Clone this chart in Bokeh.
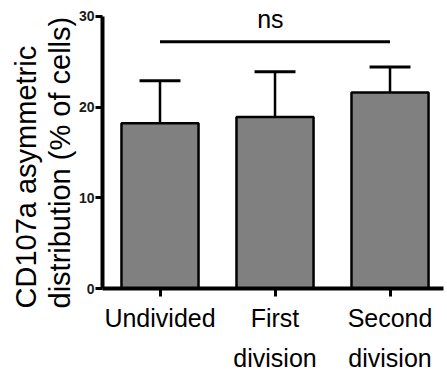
from bokeh.plotting import figure
from bokeh.models import FixedTicker, LinearAxis, Range1d, Title
from bokeh.embed import file_html
from bokeh.resources import INLINE
from bokeh.core.properties import value

# Group labels (first and second row of the category axis)
groups = ["Undivided", "First", "Second"]
groups_line2 = ["", "division", "division"]

# Mean percentage of cells and upper error (SEM) per group
means = [18.2, 18.9, 21.6]
errors = [4.7, 5.0, 2.8]

y_ticks = [0, 10, 20, 30]
y_title = ["CD107a asymmetric", "distribution (% of cells)"]
sig_text = "ns"
sig_level = 27.2

FONT = "Liberation Sans"

xs = list(range(len(groups)))
upper = [m + e for m, e in zip(means, errors)]

p = figure(width=447, height=374,
           x_range=Range1d(-0.5, 2.465), y_range=Range1d(0, 31.74),
           output_backend="svg", toolbar_location=None,
           min_border_left=102, min_border_right=4,
           min_border_top=0, min_border_bottom=82)
p.outline_line_color = None
p.xgrid.grid_line_color = None
p.ygrid.grid_line_color = None
p.background_fill_color = "white"

# error whiskers (upper only)
p.segment(x0=xs, y0=means, x1=xs, y1=upper, line_color="black", line_width=2.5)
cap_half = 0.178
p.segment(x0=[x - cap_half for x in xs], y0=upper,
          x1=[x + cap_half for x in xs], y1=upper,
          line_color="black", line_width=3)

# bars
p.vbar(x=xs, top=means, width=0.67, fill_color="#808080",
       line_color="black", line_width=2.5)

# significance bracket
p.segment(x0=[xs[0]], y0=[sig_level], x1=[xs[-1]], y1=[sig_level],
          line_color="black", line_width=3)
p.text(x=[(xs[0] + xs[-1]) / 2 - 0.04], y=[29.7], text=[sig_text],
       text_align="center", text_baseline="alphabetic",
       text_font=value(FONT), text_font_size="25px", text_color="black")

# y axis
ya = p.yaxis[0]
ya.ticker = FixedTicker(ticks=y_ticks)
ya.bounds = (0, 30)
ya.axis_line_width = 4
ya.axis_line_color = "black"
ya.major_tick_line_width = 3
ya.major_tick_out = 7
ya.major_tick_in = 0
ya.minor_tick_line_color = None
ya.major_label_text_font = FONT
ya.major_label_text_font_style = "bold"
ya.major_label_text_font_size = "14px"
ya.major_label_text_color = "#1a1a1a"
ya.major_label_standoff = 1

# category axis, first row
xa = p.xaxis[0]
xa.ticker = FixedTicker(ticks=xs)
xa.major_label_overrides = {x: g for x, g in zip(xs, groups)}
xa.axis_line_width = 4
xa.axis_line_color = "black"
xa.major_tick_line_width = 3
xa.major_tick_out = 8
xa.major_tick_in = 0
xa.minor_tick_line_color = None
xa.major_label_text_font = FONT
xa.major_label_text_font_size = "25px"
xa.major_label_text_color = "black"
xa.major_label_standoff = 7

# category axis, second row
xa2 = LinearAxis(ticker=FixedTicker(ticks=xs),
                 major_label_overrides={x: g for x, g in zip(xs, groups_line2)},
                 axis_line_color=None, major_tick_line_color=None,
                 minor_tick_line_color=None,
                 major_label_text_font=FONT, major_label_text_font_size="25px",
                 major_label_text_color="black", major_label_standoff=3)
p.add_layout(xa2, "below")

# y axis title, two rotated lines (inner line added first), both starting
# a little below the bottom of the plot area
for text in reversed(y_title):
    p.add_layout(Title(text=text, align="left", offset=-20, standoff=0,
                       text_font=FONT, text_font_size="29px",
                       text_font_style="normal", text_color="black"), "left")

open("out.html", "w").write(file_html(p, INLINE))
